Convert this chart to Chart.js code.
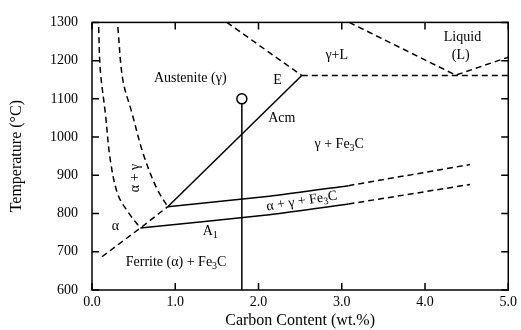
<!DOCTYPE html>
<html>
<head>
<meta charset="utf-8">
<script src="https://cdn.jsdelivr.net/npm/chart.js@4"></script>
<style>
  html, body { margin: 0; padding: 0; background: #fff; }
  #wrap { width: 521px; height: 330px; }
</style>
</head>
<body>
<div id="wrap"><canvas id="phase"></canvas></div>
<script>
/* Fe-C phase diagram (steel corner) */

const FONT = '"Liberation Serif", "Times New Roman", serif';

// phase boundaries, [wt.% C, deg C]
const A3_OUTER   = [[0.08, 1288], [0.10, 1174], [0.16, 1063], [0.22, 940], [0.31, 850], [0.43, 805], [0.58, 762]];
const A3_INNER   = [[0.31, 1288], [0.37, 1150], [0.48, 1063], [0.62, 953], [0.78, 865], [0.91, 818]];
const ALPHA_LINE = [[0.12, 687], [0.58, 762], [0.91, 818]];
const A1_SOLID   = [[0.58, 762], [2.13, 797], [3.08, 825]];
const A1_DASH    = [[3.08, 825], [4.54, 876]];
const UP_SOLID   = [[0.91, 818], [2.13, 845], [3.08, 873]];
const UP_DASH    = [[3.08, 873], [4.54, 928]];
const ACM        = [[0.91, 818], [2.52, 1161]];
const EUTECTIC   = [[2.52, 1161], [5.0, 1161]];
const SOLIDUS    = [[1.62, 1300], [2.52, 1161]];
const LIQUIDUS   = [[3.09, 1300], [4.37, 1162], [5.0, 1209]];
const ALLOY      = [[1.8, 1100], [1.8, 600]];
const MARKER     = [[1.8, 1100]];

const X_TICKS = [0, 1, 2, 3, 4, 5];
const Y_TICKS = [600, 700, 800, 900, 1000, 1100, 1200, 1300];

// region labels: text ('_n' = subscript), x, y, angle
const LABELS = [
  ['Austenite (\u03B3)', 1.18, 1153, 0],
  ['E', 2.23, 1148, 0],
  ['Acm', 2.28, 1048, 0],
  ['\u03B3+L', 2.94, 1213, 0],
  ['Liquid', 4.45, 1261, 0],
  ['(L)', 4.43, 1213, 0],
  ['\u03B3 + Fe_3C', 2.97, 981, 0],
  ['\u03B1 + \u03B3', 0.52, 893, -90],
  ['\u03B1', 0.28, 767, 0],
  ['A_1', 1.42, 754, 0],
  ['\u03B1 + \u03B3 + Fe_3C', 2.52, 832, -9],
  ['Ferrite (\u03B1) + Fe_3C', 1.01, 672, 0],
];

const pts = arr => arr.map(([x, y]) => ({ x, y }));
const line = (arr, dashed) => ({
  data: pts(arr), showLine: true, borderColor: '#000', borderWidth: 1.5,
  borderDash: dashed ? [6, 4] : [], pointRadius: 0, tension: 0, fill: false
});

function drawRich(ctx, text, cx, cy, angle) {
  const parts = text.split(/_(\d)/).map((t, i) => ({ t, sub: i % 2 === 1 })).filter(p => p.t);
  ctx.save();
  ctx.translate(cx, cy);
  ctx.rotate(angle * Math.PI / 180);
  ctx.fillStyle = '#000';
  ctx.textBaseline = 'middle';
  ctx.textAlign = 'left';
  const widths = parts.map(p => { ctx.font = (p.sub ? 10 : 14) + 'px ' + FONT; return ctx.measureText(p.t).width; });
  let x = -widths.reduce((a, b) => a + b, 0) / 2;
  parts.forEach((p, i) => {
    ctx.font = (p.sub ? 10 : 14) + 'px ' + FONT;
    ctx.fillText(p.t, x, p.sub ? 4 : 0);
    x += widths[i];
  });
  ctx.restore();
}

// frame with inward ticks on all four sides, plus region labels
const framePlugin = {
  id: 'frame',
  afterDraw(chart) {
    const { ctx, chartArea: a, scales: { x, y } } = chart;
    const len = 7;
    ctx.save();
    ctx.strokeStyle = '#000';
    ctx.lineWidth = 1.5;
    ctx.strokeRect(a.left, a.top, a.right - a.left, a.bottom - a.top);
    ctx.beginPath();
    X_TICKS.forEach(v => {
      const px = x.getPixelForValue(v);
      ctx.moveTo(px, a.bottom); ctx.lineTo(px, a.bottom - len);
      ctx.moveTo(px, a.top); ctx.lineTo(px, a.top + len);
    });
    Y_TICKS.forEach(v => {
      const py = y.getPixelForValue(v);
      ctx.moveTo(a.left, py); ctx.lineTo(a.left + len, py);
      ctx.moveTo(a.right, py); ctx.lineTo(a.right - len, py);
    });
    ctx.stroke();
    ctx.restore();
    LABELS.forEach(([t, vx, vy, ang]) => drawRich(ctx, t, x.getPixelForValue(vx), y.getPixelForValue(vy), ang));
  }
};

const tickFont = { family: FONT, size: 14 };
const titleFont = { family: FONT, size: 16 };

new Chart(document.getElementById('phase'), {
  type: 'scatter',
  data: {
    datasets: [
      { data: pts(MARKER), pointRadius: 5, pointBackgroundColor: '#fff', pointBorderColor: '#000', pointBorderWidth: 1.5, showLine: false },
      line(ALLOY, false),
      { ...line(A3_OUTER, true), tension: 0.35 },
      { ...line(A3_INNER, true), tension: 0.35 },
      line(ALPHA_LINE, true),
      { ...line(A1_SOLID, false), tension: 0.2 },
      line(A1_DASH, true),
      { ...line(UP_SOLID, false), tension: 0.2 },
      line(UP_DASH, true),
      line(ACM, false),
      line(EUTECTIC, true),
      line(SOLIDUS, true),
      line(LIQUIDUS, true),
    ]
  },
  options: {
    responsive: true,
    maintainAspectRatio: false,
    animation: false,
    layout: { padding: { top: 18, right: 12, left: 0, bottom: 0 } },
    plugins: { legend: { display: false }, tooltip: { enabled: false } },
    scales: {
      x: {
        type: 'linear', min: 0, max: 5,
        afterFit: s => { s.height = 40; },
        afterBuildTicks: s => { s.ticks = X_TICKS.map(v => ({ value: v })); },
        grid: { display: false, drawTicks: false },
        border: { display: false },
        ticks: { color: '#000', font: tickFont, padding: 4, maxRotation: 0, callback: v => v.toFixed(1) },
        title: { display: true, text: 'Carbon Content (wt.%)', color: '#000', font: titleFont, padding: { top: 0, bottom: 0 } }
      },
      y: {
        type: 'linear', min: 600, max: 1300,
        afterFit: s => { s.width = 92; },
        afterBuildTicks: s => { s.ticks = Y_TICKS.map(v => ({ value: v })); },
        grid: { display: false, drawTicks: false },
        border: { display: false },
        ticks: { color: '#000', font: tickFont, padding: 14, callback: v => String(v) },
        title: { display: true, text: 'Temperature (\u00B0C)', color: '#000', font: titleFont, padding: { top: 7, bottom: 0 } }
      }
    }
  },
  plugins: [framePlugin]
});
</script>
</body>
</html>
